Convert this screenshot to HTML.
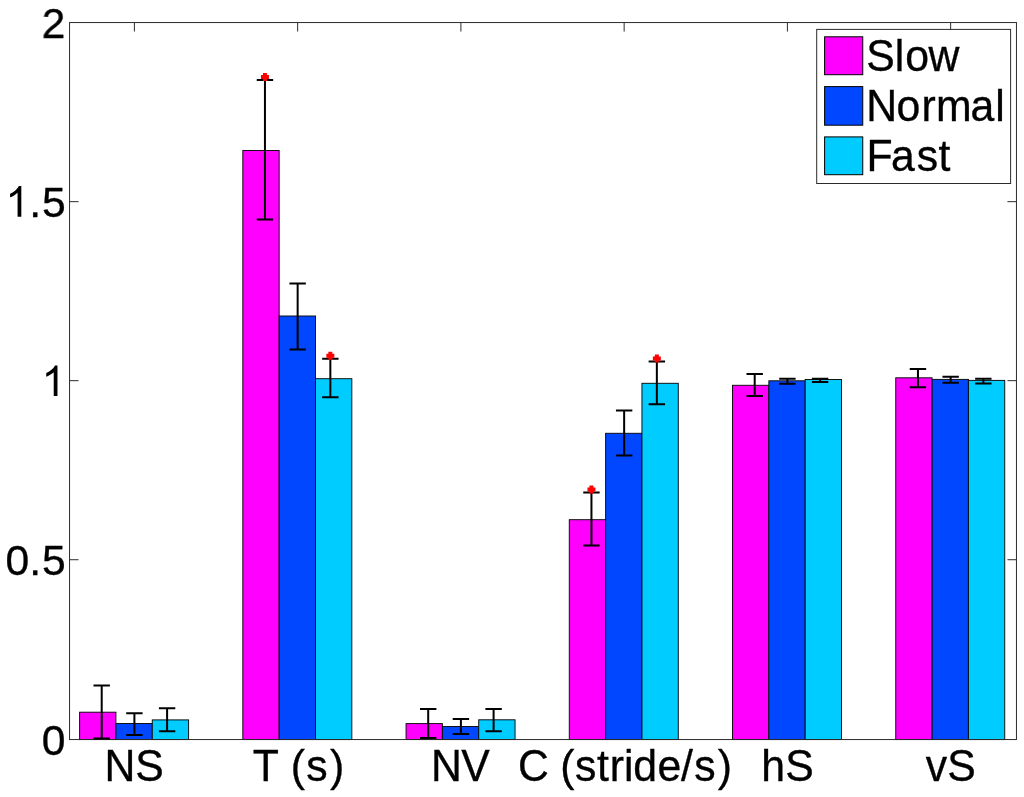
<!DOCTYPE html>
<html><head><meta charset="utf-8"><title>chart</title>
<style>
html,body{margin:0;padding:0;background:#fff;}
body{width:1024px;height:797px;overflow:hidden;}
svg{display:block;will-change:transform;}
text{font-family:"Liberation Sans",sans-serif;font-size:44.3px;fill:#000;stroke:#000;stroke-width:0.35px;}
</style></head><body>
<svg width="1024" height="797" viewBox="0 0 1024 797">
<rect x="0" y="0" width="1024" height="797" fill="#fff"/>
<g stroke="#0a0a0a" stroke-width="0.95">
<rect x="79.60" y="712.20" width="36.33" height="27.35" fill="#ff00ff"/>
<rect x="115.93" y="723.50" width="36.33" height="16.05" fill="#0047ff"/>
<rect x="152.26" y="719.90" width="36.33" height="19.65" fill="#00ccff"/>
<rect x="242.83" y="150.50" width="36.33" height="589.05" fill="#ff00ff"/>
<rect x="279.16" y="316.00" width="36.33" height="423.55" fill="#0047ff"/>
<rect x="315.50" y="378.70" width="36.33" height="360.85" fill="#00ccff"/>
<rect x="406.06" y="723.60" width="36.33" height="15.95" fill="#ff00ff"/>
<rect x="442.39" y="726.50" width="36.33" height="13.05" fill="#0047ff"/>
<rect x="478.72" y="719.80" width="36.33" height="19.75" fill="#00ccff"/>
<rect x="569.29" y="519.70" width="36.33" height="219.85" fill="#ff00ff"/>
<rect x="605.62" y="433.30" width="36.33" height="306.25" fill="#0047ff"/>
<rect x="641.95" y="383.30" width="36.33" height="356.25" fill="#00ccff"/>
<rect x="732.52" y="385.30" width="36.33" height="354.25" fill="#ff00ff"/>
<rect x="768.86" y="380.80" width="36.33" height="358.75" fill="#0047ff"/>
<rect x="805.18" y="379.50" width="36.33" height="360.05" fill="#00ccff"/>
<rect x="895.75" y="377.80" width="36.33" height="361.75" fill="#ff00ff"/>
<rect x="932.09" y="379.40" width="36.33" height="360.15" fill="#0047ff"/>
<rect x="968.41" y="380.40" width="36.33" height="359.15" fill="#00ccff"/>
</g>
<g stroke="#2b2b2b" stroke-width="1" fill="none">
<rect x="69.55" y="22.55" width="946.90" height="717.00"/>
<line x1="134.40" y1="22.55" x2="134.40" y2="31.55"/>
<line x1="297.65" y1="22.55" x2="297.65" y2="31.55"/>
<line x1="460.90" y1="22.55" x2="460.90" y2="31.55"/>
<line x1="624.15" y1="22.55" x2="624.15" y2="31.55"/>
<line x1="787.40" y1="22.55" x2="787.40" y2="31.55"/>
<line x1="950.65" y1="22.55" x2="950.65" y2="31.55"/>
<line x1="69.55" y1="559.72" x2="78.55" y2="559.72"/>
<line x1="1016.45" y1="559.72" x2="1007.45" y2="559.72"/>
<line x1="69.55" y1="380.67" x2="78.55" y2="380.67"/>
<line x1="1016.45" y1="380.67" x2="1007.45" y2="380.67"/>
<line x1="69.55" y1="201.66" x2="78.55" y2="201.66"/>
<line x1="1016.45" y1="201.66" x2="1007.45" y2="201.66"/>
</g>
<g stroke="#000" stroke-width="2" fill="none">
<path d="M101.70 685.50 V738.60 M93.50 685.50 H109.90 M93.50 738.60 H109.90"/>
<path d="M134.40 713.20 V735.10 M126.20 713.20 H142.60 M126.20 735.10 H142.60"/>
<path d="M167.10 708.30 V731.20 M158.90 708.30 H175.30 M158.90 731.20 H175.30"/>
<path d="M264.95 79.90 V219.50 M256.75 79.90 H273.15 M256.75 219.50 H273.15"/>
<path d="M297.65 283.50 V349.40 M289.45 283.50 H305.85 M289.45 349.40 H305.85"/>
<path d="M330.35 358.70 V397.30 M322.15 358.70 H338.55 M322.15 397.30 H338.55"/>
<path d="M428.20 709.10 V737.90 M420.00 709.10 H436.40 M420.00 737.90 H436.40"/>
<path d="M460.90 718.90 V733.90 M452.70 718.90 H469.10 M452.70 733.90 H469.10"/>
<path d="M493.60 709.10 V731.30 M485.40 709.10 H501.80 M485.40 731.30 H501.80"/>
<path d="M591.45 492.60 V545.40 M583.25 492.60 H599.65 M583.25 545.40 H599.65"/>
<path d="M624.15 410.40 V455.60 M615.95 410.40 H632.35 M615.95 455.60 H632.35"/>
<path d="M656.85 361.50 V404.30 M648.65 361.50 H665.05 M648.65 404.30 H665.05"/>
<path d="M754.70 374.10 V395.90 M746.50 374.10 H762.90 M746.50 395.90 H762.90"/>
<path d="M787.40 378.70 V383.80 M779.20 378.70 H795.60 M779.20 383.80 H795.60"/>
<path d="M820.10 378.70 V382.10 M811.90 378.70 H828.30 M811.90 382.10 H828.30"/>
<path d="M917.95 369.10 V387.30 M909.75 369.10 H926.15 M909.75 387.30 H926.15"/>
<path d="M950.65 376.80 V382.80 M942.45 376.80 H958.85 M942.45 382.80 H958.85"/>
<path d="M983.35 378.70 V383.60 M975.15 378.70 H991.55 M975.15 383.60 H991.55"/>
</g>
<g fill="#ff0000">
<path d="M262.95 72.90 h4 v2 h2 v4 h-2 v2 h-4 v-2 h-2 v-4 h2 z"/>
<path d="M328.35 351.70 h4 v2 h2 v4 h-2 v2 h-4 v-2 h-2 v-4 h2 z"/>
<path d="M589.45 485.60 h4 v2 h2 v4 h-2 v2 h-4 v-2 h-2 v-4 h2 z"/>
<path d="M654.85 354.50 h4 v2 h2 v4 h-2 v2 h-4 v-2 h-2 v-4 h2 z"/>
</g>
<rect x="816.7" y="29.4" width="193.9" height="154.1" fill="#fff" stroke="#2b2b2b" stroke-width="1"/>
<rect x="824.6" y="36.80" width="38.15" height="37.90" fill="#ff00ff" stroke="#000" stroke-width="1"/>
<rect x="824.6" y="86.60" width="38.15" height="38.60" fill="#0047ff" stroke="#000" stroke-width="1"/>
<rect x="824.6" y="136.90" width="38.15" height="37.80" fill="#00ccff" stroke="#000" stroke-width="1"/>
<g class="t" opacity="0.999">
<text transform="scale(0.965 1)" style="font-size:44.3px" x="108.29 140.21" y="780.7">NS</text>
<text transform="scale(0.965 1)" style="font-size:44.3px" x="261.97 301.22 317.30 342.05" y="780.7">T(s)</text>
<text transform="scale(0.965 1)" style="font-size:44.3px" x="446.74 477.97" y="780.7">NV</text>
<text transform="scale(0.965 1)" style="font-size:44.3px" x="536.83 580.60 595.95 618.70 631.88 646.64 656.16 681.25 705.81 719.32 743.71" y="780.7">C(stride/s)</text>
<text transform="scale(0.965 1)" style="font-size:44.3px" x="788.78 813.79" y="780.7">hS</text>
<text transform="scale(0.965 1)" style="font-size:44.3px" x="959.29 981.71" y="780.7">vS</text>
<text transform="scale(0.965 1)" style="font-size:44.3px" x="897.57 927.19 938.10 962.27" y="71.0">Slow</text>
<text transform="scale(0.965 1)" style="font-size:44.3px" x="897.72 929.08 954.89 969.98 1005.81 1031.39" y="121.1">Normal</text>
<text transform="scale(0.965 1)" style="font-size:44.3px" x="897.87 923.42 949.94 972.48" y="170.9">Fast</text>
<text transform="scale(0.985 1)" style="font-size:43.3px" x="42.27" y="38.0">2</text>
<path d="M763 0H583V1147Q518 1085 412.5 1023Q307 961 223 930V1104Q374 1175 487 1276Q600 1377 647 1472H763Z" transform="translate(5.45 216.70) scale(0.02080 -0.02080)" fill="#000"/>
<text transform="scale(0.985 1)" style="font-size:43.3px" x="29.77 42.62" y="216.7">.5</text>
<path d="M763 0H583V1147Q518 1085 412.5 1023Q307 961 223 930V1104Q374 1175 487 1276Q600 1377 647 1472H763Z" transform="translate(41.60 396.00) scale(0.02080 -0.02080)" fill="#000"/>
<text transform="scale(0.985 1)" style="font-size:43.3px" x="5.57 29.77 42.62" y="575.3">0.5</text>
<text transform="scale(0.985 1)" style="font-size:43.3px" x="42.38" y="755.3">0</text>
</g>
</svg>
</body></html>
